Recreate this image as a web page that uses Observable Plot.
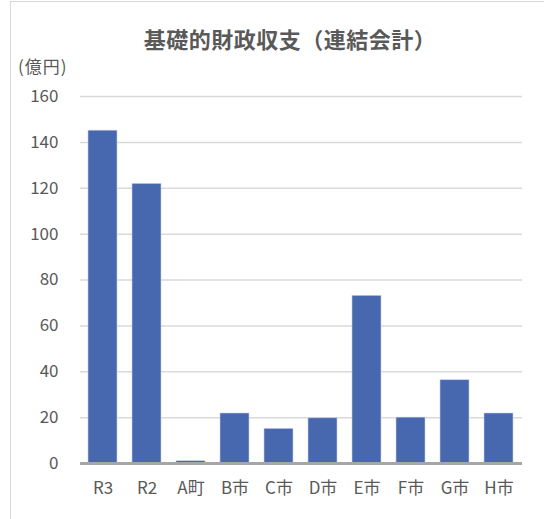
<!DOCTYPE html>
<html>
<head>
<meta charset="utf-8">
<script src="https://cdn.jsdelivr.net/npm/d3@7"></script>
<script src="https://cdn.jsdelivr.net/npm/@observablehq/plot@0.6"></script>
<style>
  html, body { margin: 0; padding: 0; background: #fff; overflow: hidden; }
  #wrap { position: relative; width: 544px; height: 519px; overflow: hidden; }
  #frame { position: absolute; left: 10px; top: 1px; width: 600px; height: 600px; border: 1.5px solid #d9d9d9; box-sizing: border-box; }
  #title { position: absolute; left: 0; width: 580px; top: 22px; text-align: center; font-family: 'Noto Sans CJK JP', sans-serif; font-weight: bold; font-size: 22px; letter-spacing: 0.5px; color: #595959; }
  #unit { position: absolute; left: 18px; top: 53px; font-family: 'Noto Sans CJK JP', sans-serif; font-size: 17px; letter-spacing: 1px; color: #595959; }
  #chart { position: absolute; left: 0; top: 0; }
</style>
</head>
<body>
<div id="wrap">
  <div id="frame"></div>
  <div id="chart"></div>
  <div id="title">基礎的財政収支（連結会計）</div>
  <div id="unit">(億円)</div>
</div>
<script>
const categories = ["R3", "R2", "A町", "B市", "C市", "D市", "E市", "F市", "G市", "H市"];
const values = [145.1, 121.9, 1.0, 21.8, 15.1, 19.7, 73.1, 20.0, 36.3, 21.8];
const yTicks = [0, 20, 40, 60, 80, 100, 120, 140, 160];

const data = categories.map((c, i) => ({ name: c, value: values[i] }));

const chart = Plot.plot({
  width: 544,
  height: 519,
  marginTop: 96,
  marginBottom: 56,
  marginLeft: 80,
  marginRight: 22,
  style: { fontFamily: "'Noto Sans CJK JP', sans-serif", fontSize: "17px", color: "#595959", background: "transparent" },
  x: { domain: categories, paddingInner: 0.33, paddingOuter: 0.17, label: null },
  y: { domain: [0, 160], label: null },
  marks: [
    Plot.ruleY(yTicks.filter(d => d > 0), { stroke: "#d9d9d9", strokeWidth: 1.5 }),
    Plot.barY(data, { x: "name", y: "value", fill: "#4767ae", stroke: "#c5d0ea", strokeWidth: 0.6 }),
    Plot.ruleY([0], { stroke: "#a6a6a6", strokeWidth: 3 }),
    Plot.axisY({ ticks: yTicks, tickSize: 0, tickPadding: 22, label: null, fill: "#595959" }),
    Plot.axisX({ tickSize: 0, tickPadding: 18, label: null, fill: "#595959" })
  ]
});
document.getElementById("chart").appendChild(chart);
</script>
</body>
</html>
